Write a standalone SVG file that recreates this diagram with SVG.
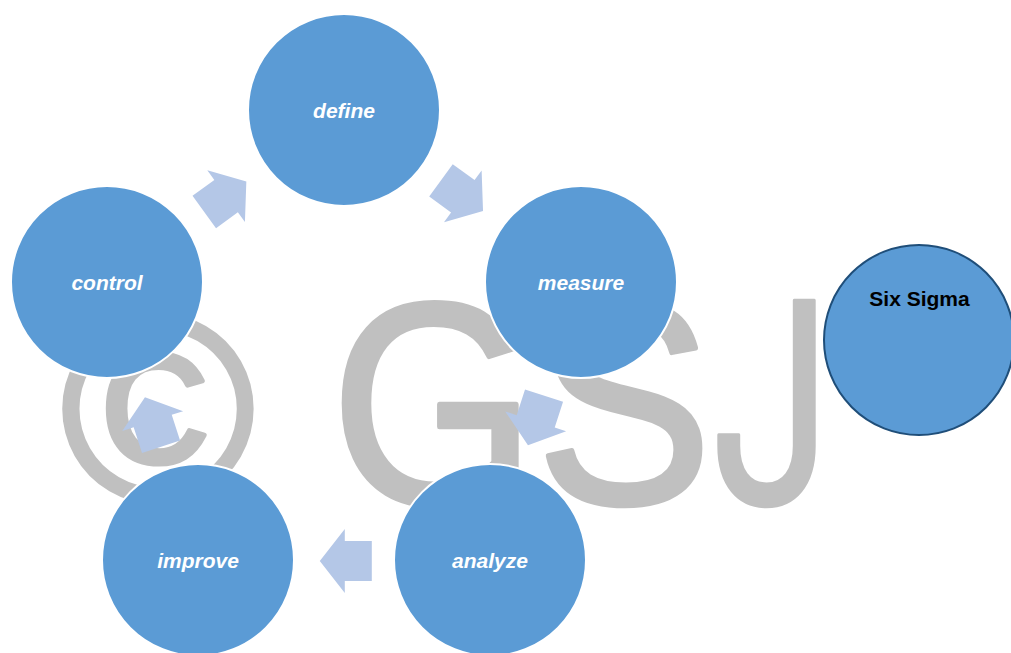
<svg xmlns="http://www.w3.org/2000/svg" width="1011" height="653" viewBox="0 0 1011 653">
<style>
.wm{font-family:"Liberation Sans",Arial,sans-serif;fill:#c0c0c0;stroke:#c0c0c0;stroke-linejoin:round}
.wmj{font-family:Inter,"Liberation Sans",sans-serif}
.node{fill:#5b9bd5;stroke:#ffffff;stroke-width:2}
.lbl{font-family:"Liberation Sans",Arial,sans-serif;font-size:21px;font-weight:bold;font-style:italic;fill:#ffffff;text-anchor:middle}
.arrow{fill:#b4c7e7}
.six{fill:#5b9bd5;stroke:#1f4e79;stroke-width:2}
.sixlbl{font-family:"Liberation Sans",Arial,sans-serif;font-size:21px;font-weight:bold;fill:#000000;text-anchor:middle}
</style>
<defs>
<polygon id="blockArrow" points="26,0 1,-32 1,-20 -26,-20 -26,20 1,20 1,32"/>
</defs>
<rect width="1011" height="653" fill="#ffffff"/>
<g id="watermark">
<text class="wm" x="158" y="500" font-size="264" stroke-width="5" text-anchor="middle">©</text>
<text class="wm" transform="translate(330.7,503) scale(0.92,1)" font-size="287" stroke-width="5">GS</text>
<text class="wm wmj" transform="translate(707.7,504) scale(0.79,1)" font-size="280" stroke-width="3">J</text>
</g>
<g id="connectors" class="arrow">
<use href="#blockArrow" transform="translate(225.3,196.7) rotate(-36)"/>
<use href="#blockArrow" transform="translate(462,195.7) rotate(36)"/>
<use href="#blockArrow" transform="translate(536,420.4) rotate(108)"/>
<use href="#blockArrow" transform="translate(345.8,561) rotate(180)"/>
<use href="#blockArrow" transform="translate(153,422) rotate(252)"/>
</g>
<g id="node-define">
<circle class="node" cx="344" cy="110" r="96"/>
<text class="lbl" x="344" y="117.5">define</text>
</g>
<g id="node-measure">
<circle class="node" cx="581" cy="282" r="96"/>
<text class="lbl" x="581" y="289.5">measure</text>
</g>
<g id="node-analyze">
<circle class="node" cx="490" cy="560" r="96"/>
<text class="lbl" x="490" y="567.5">analyze</text>
</g>
<g id="node-improve">
<circle class="node" cx="198" cy="560" r="96"/>
<text class="lbl" x="198" y="567.5">improve</text>
</g>
<g id="node-control">
<circle class="node" cx="107" cy="282" r="96"/>
<text class="lbl" x="107" y="289.5">control</text>
</g>
<g id="node-sixsigma">
<circle class="six" cx="919" cy="340" r="95"/>
<text class="sixlbl" x="919.5" y="306">Six Sigma</text>
</g>
</svg>
